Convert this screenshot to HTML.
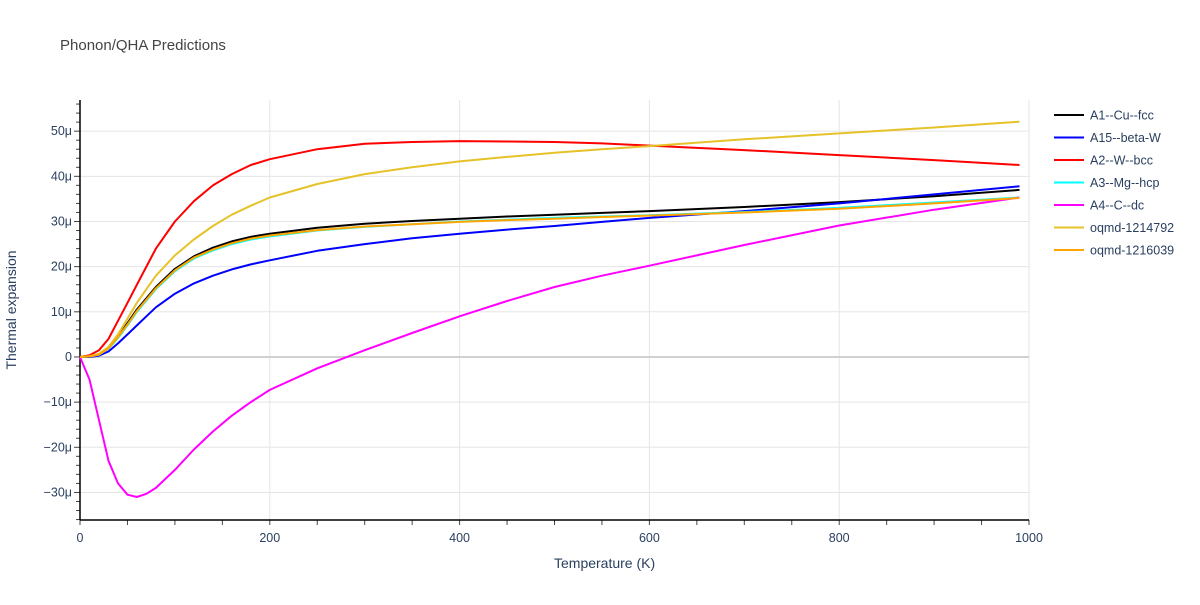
<!DOCTYPE html>
<html><head><meta charset="utf-8"><style>
body{margin:0;background:#fff;font-family:"Liberation Sans",Arial,sans-serif}
svg text{fill:#2a3f5f;font-family:"Liberation Sans",Arial,sans-serif}
</style></head><body>
<svg id="chart" width="1200" height="600">
<text x="60" y="50" font-size="15" style="fill:#444">Phonon/QHA Predictions</text>
<g id="grid"></g><g id="axes"></g><g id="series"></g><g id="legend"></g>
<text x="554" y="568" font-size="14">Temperature (K)</text>
<text transform="translate(16,310) rotate(-90)" text-anchor="middle" font-size="14">Thermal expansion</text>
</svg>
<script>
const temps=[0,10,20,30,40,50,60,70,80,100,120,140,160,180,200,250,300,350,400,450,500,550,600,700,800,900,990];
const cuFcc=[0,0.1,0.6,2,4.5,7.5,10.5,13,15.5,19.5,22.3,24.2,25.6,26.6,27.3,28.6,29.5,30.1,30.6,31.1,31.5,31.9,32.3,33.2,34.3,35.6,37];
const betaW=[0,0,0.3,1.2,3,5,7,9,11,14,16.3,18,19.4,20.5,21.4,23.5,25,26.3,27.3,28.2,29,29.9,30.8,32.3,34,36,37.8];
const wBcc=[0,0.4,1.5,4,8,12,16,20,24,30,34.5,38,40.5,42.5,43.8,46,47.2,47.6,47.8,47.7,47.6,47.3,46.8,45.8,44.7,43.6,42.5];
const mgHcp=[0,0.1,0.5,1.8,4.2,7,10,12.5,15,19,21.8,23.6,25,26,26.7,28,28.8,29.4,30,30.4,30.8,31.1,31.4,32.1,33,34.2,35.3];
const cDc=[0,-5,-14,-23,-28,-30.5,-31,-30.3,-29,-25,-20.5,-16.5,-13,-10,-7.3,-2.5,1.5,5.3,9,12.4,15.5,18,20.2,24.8,29.1,32.6,35.3];
const oqmd1214792=[0,0.2,0.7,2.2,5,8.5,12,15,18,22.5,26,29,31.5,33.5,35.3,38.3,40.5,42,43.3,44.3,45.2,46,46.7,48.2,49.5,50.8,52.1];
const oqmd1216039=[0,0.1,0.5,1.9,4.4,7.2,10.2,12.7,15.2,19.2,22,23.8,25.2,26.2,26.9,28.1,28.9,29.4,29.9,30.3,30.6,31,31.3,32,32.8,34,35.2];
const xTicks=[0,200,400,600,800,1000];
const yTicks=[-30,-20,-10,0,10,20,30,40,50];
const yTickLabels=["−30μ","−20μ","−10μ","0","10μ","20μ","30μ","40μ","50μ"];
const names=["A1--Cu--fcc","A15--beta-W","A2--W--bcc","A3--Mg--hcp","A4--C--dc","oqmd-1214792","oqmd-1216039"];
const seriesData=[cuFcc,betaW,wBcc,mgHcp,cDc,oqmd1214792,oqmd1216039];
const colors=["#000000","#0000ff","#ff0000","#00ffff","#ff00ff","#e6c229","#ffa500"];
const NS="http://www.w3.org/2000/svg";
const X0=80,X1=1029,Y0=520,Y1=100,ymin=-36.1,ymax=56.9;
const xs=t=>X0+(t/1000)*(X1-X0);
const ys=v=>Y0-(v-ymin)/(ymax-ymin)*(Y0-Y1);
function mk(tag,attrs,parent){const e=document.createElementNS(NS,tag);for(const k in attrs)e.setAttribute(k,attrs[k]);parent.appendChild(e);return e;}
const grid=document.getElementById('grid'),axes=document.getElementById('axes'),ser=document.getElementById('series'),leg=document.getElementById('legend');
xTicks.forEach(t=>{
 if(t>0){const l=mk('line',{x1:xs(t),x2:xs(t),y1:Y1,y2:Y0,stroke:'#e5e5e5','stroke-width':1},grid);
 
 }
 const tx=mk('text',{x:xs(t),y:Y0+22,'text-anchor':'middle','font-size':12.5},axes);tx.textContent=t;
 
 
});
for(let t=0;t<=1000;t+=50){mk('line',{x1:xs(t),x2:xs(t),y1:Y0,y2:Y0+5,stroke:'#444','stroke-width':1},axes);}
yTicks.forEach((v,i)=>{
 const l=mk('line',{x1:X0,x2:X1,y1:ys(v),y2:ys(v),stroke:v===0?'#d0d0d0':'#e5e5e5','stroke-width':v===0?2:1},grid);
 
 
 const tx=mk('text',{x:X0-8,y:ys(v)+4,'text-anchor':'end','font-size':12.5},axes);tx.textContent=yTickLabels[i];
 
 
});
for(let v=-36;v<=56;v+=2){mk('line',{x1:X0-(v%10===0?6:4),x2:X0,y1:ys(v),y2:ys(v),stroke:'#444','stroke-width':1},axes);}
const xa=mk('line',{x1:X0,x2:X1,y1:Y0,y2:Y0,stroke:'#000','stroke-width':1.5},axes);


const ya=mk('line',{x1:X0,x2:X0,y1:Y1,y2:Y0,stroke:'#000','stroke-width':1.5},axes);


seriesData.forEach((d,i)=>{
 const pts=d.map((v,j)=>xs(temps[j]).toFixed(1)+','+ys(v).toFixed(1)).join(' ');
 const p=mk('polyline',{points:pts,fill:'none',stroke:colors[i],'stroke-width':2,'stroke-linejoin':'round'},ser);
 
 
 const y=115+i*22.5;
 const g=mk('g',{},leg);
 
 
 mk('line',{x1:1054,x2:1084,y1:y,y2:y,stroke:colors[i],'stroke-width':2},g);
 const t=mk('text',{x:1090,y:y+4.5,'font-size':12.5},g);t.textContent=names[i];
});
</script>
</body></html>
